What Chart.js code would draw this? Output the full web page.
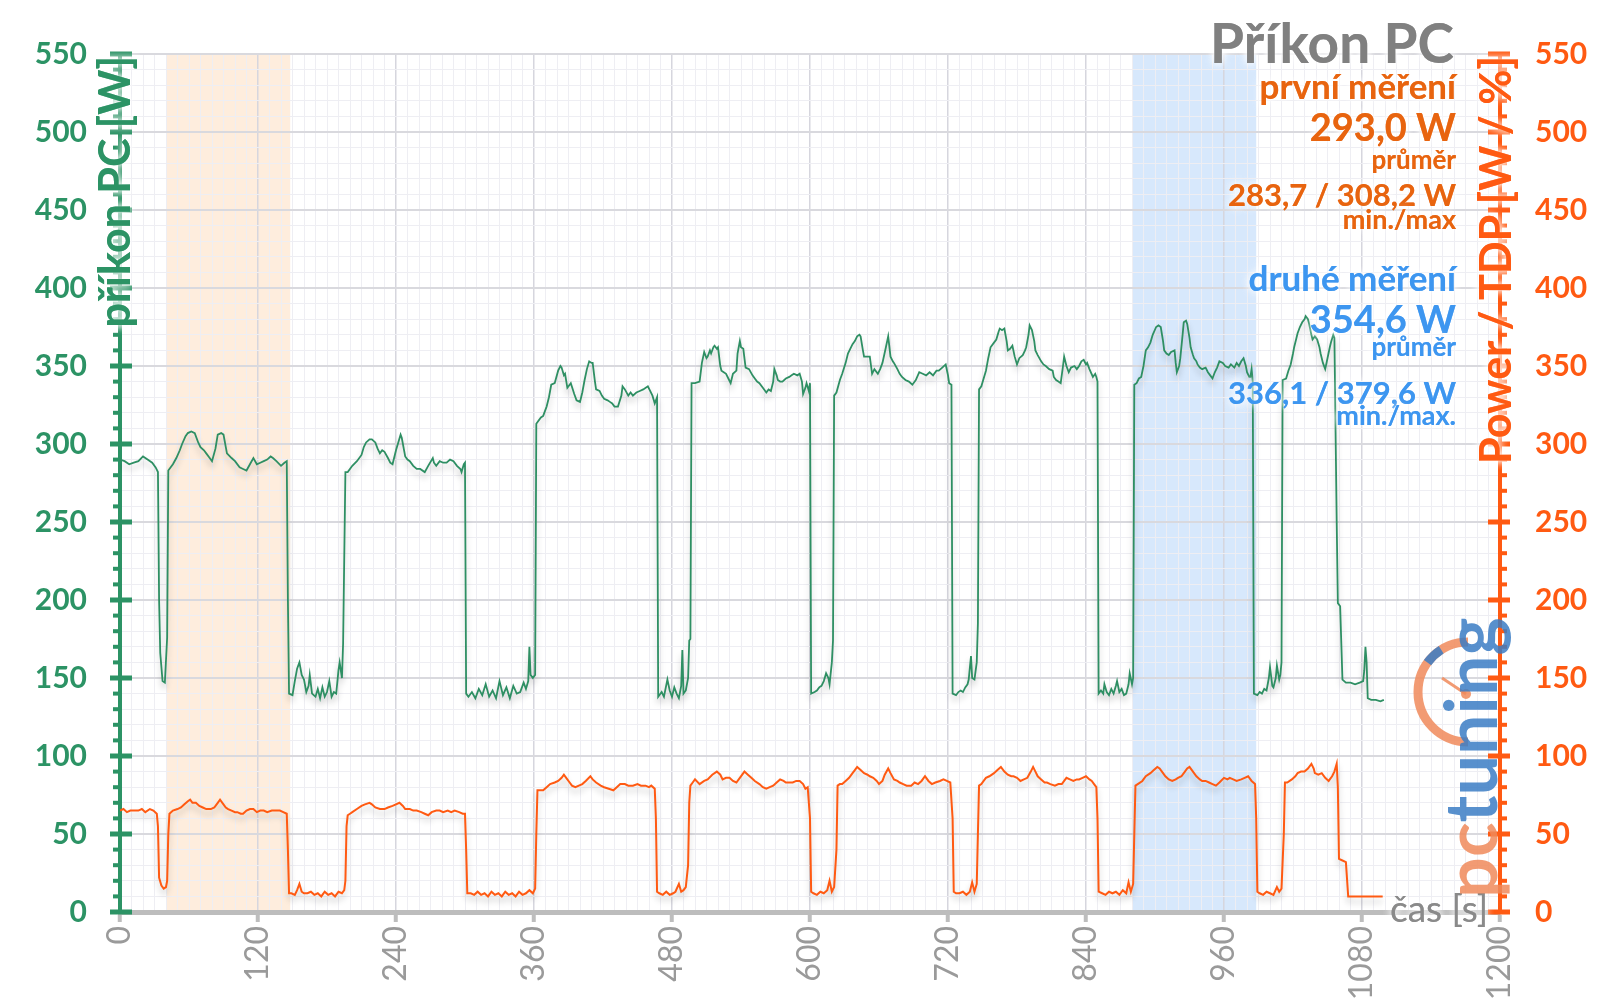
<!DOCTYPE html>
<html>
<head>
<meta charset="utf-8">
<script src="https://cdn.jsdelivr.net/npm/chart.js@4"></script>
<style>
  html, body { margin: 0; padding: 0; background: #fff; }
  #wrap { width: 1600px; height: 1008px; }
</style>
</head>
<body>
<div id="wrap"><canvas id="myChart" width="1600" height="1008"></canvas></div>
<script>
// příkon PC [W] - time [s], watts
const pcPower = [
[0,290],[4,289],[8,287],[12,288],[16,289],[20,292],[24,290],[28,288],[31,285],[33,282],[34,200],[35,166],[37,148],[39,147],[41,176],[42,283],
[46,287],[49,291],[52,296],[54,300],[57,305],[59,307],[62,308],[65,307],[68,301],[70,298],[73,296],[75,294],[78,291],[80,289],[83,297],[85,306],[88,307],[90,306],[92,298],[93,294],[97,291],[100,289],[104,285],[107,284],[110,283],[113,287],[116,291],[119,287],[122,288],[125,289],[128,290],[131,292],[133,291],[136,289],[140,286],[143,288],[145,289],[146,200],
[147,140],[150,139],[152,148],[154,156],[156,160],[158,152],[160,149],[162,141],[164,145],[165,152],[167,140],[170,138],[172,143],[174,137],[176,144],[178,138],[180,141],[182,148],[184,138],[186,141],[188,140],[190,155],[191,160],[193,150],[194,172],[196,282],
[198,282],[202,286],[206,289],[210,293],[212,298],[214,301],[217,303],[219,303],[222,301],[224,297],[226,294],[228,296],[230,295],[233,291],[235,288],[237,287],[240,296],[242,301],[244,306],[245,304],[248,292],[250,290],[252,289],[255,286],[258,284],[261,284],[265,282],[268,286],[272,291],[273,288],[275,286],[278,289],[281,288],[284,288],[287,290],[290,289],[293,286],[296,284],[297,282],[299,287],[300,288],
[301,140],[303,138],[306,141],[309,137],[312,143],[315,139],[318,146],[321,138],[324,142],[327,137],[330,148],[333,139],[336,144],[339,137],[342,145],[345,140],[348,141],[351,147],[353,143],[355,148],[356,170],[357,152],[359,150],[361,152],
[362,313],[366,317],[368,318],[370,322],[371,324],[373,330],[375,338],[378,339],[381,347],[383,350],[384,349],[386,344],[387,345],[389,336],[391,338],[392,339],[395,332],[397,328],[400,327],[402,333],[404,341],[406,348],[408,353],[410,352],[411,352],[413,340],[414,335],[417,334],[419,331],[421,329],[424,328],[426,327],[428,326],[430,324],[433,324],[436,331],[437,337],[439,335],[442,331],[444,333],[446,331],[449,333],[452,334],[455,335],[459,337],[461,334],[463,331],[465,326],[467,330],
[468,138],[471,141],[473,138],[476,149],[478,142],[480,138],[482,144],[484,140],[486,137],[488,145],[489,168],[490,140],[492,142],[494,150],[495,174],[496,175],
[497,339],[500,339],[504,340],[506,352],[508,359],[510,355],[511,356],[513,360],[514,358],[516,362],[517,363],[519,361],[520,362],[522,350],[523,347],[525,346],[527,345],[529,342],[531,339],[533,345],[536,347],[537,358],[539,366],[540,362],[542,361],[544,349],[547,348],[550,344],[552,342],[554,340],[556,339],[559,336],[562,333],[564,335],[566,334],[568,340],[569,348],[571,344],[572,341],[574,340],[576,340],[579,342],[582,343],[584,344],[586,345],[589,344],[591,345],[593,340],[594,332],[596,336],[597,339],[599,334],[600,339],
[601,140],[604,141],[606,142],[608,144],[610,145],[612,148],[614,153],[616,150],[617,146],[619,160],[620,174],
[621,331],[623,333],[626,341],[628,345],[631,352],[633,358],[635,361],[637,364],[639,366],[641,369],[643,370],[644,369],[646,360],[647,356],[650,356],[652,356],[654,345],[656,348],[659,345],[661,348],[663,352],[666,362],[668,369],[670,356],[672,353],[673,352],[676,348],[678,345],[680,343],[683,341],[686,340],[689,338],[692,341],[695,346],[698,345],[701,344],[704,346],[707,344],[710,347],[712,347],[715,349],[718,351],[720,344],[721,339],[723,338],
[724,140],[727,139],[729,141],[731,142],[733,141],[735,144],[737,146],[738,149],[740,164],[741,150],[743,149],[745,160],[746,185],
[747,335],[749,337],[751,342],[753,347],[755,355],[757,362],[760,365],[762,367],[764,372],[765,374],[767,373],[769,374],[771,366],[772,360],[774,361],[776,363],[778,356],[780,351],[782,355],[785,357],[787,360],[788,362],[790,370],[791,376],[793,373],[795,366],[796,360],[798,357],[801,353],[803,351],[805,350],[808,348],[811,347],[812,343],[814,341],[816,340],[818,339],[820,350],[821,356],[823,350],[825,346],[827,349],[830,350],[832,348],[834,350],[836,353],[838,354],[840,351],[841,352],[843,348],[846,343],[848,345],[849,343],[850,340],
[851,140],[853,142],[855,140],[856,146],[858,141],[860,139],[862,143],[864,140],[866,145],[867,148],[869,141],[871,143],[873,139],[875,140],[877,146],[878,153],[880,146],[881,150],
[882,338],[884,339],[886,342],[888,343],[890,350],[892,360],[894,362],[896,365],[898,370],[901,375],[903,376],[905,375],[907,366],[908,360],[910,358],[912,357],[914,359],[917,360],[918,352],[919,346],[921,350],[922,355],[924,370],[925,378],[927,379],[928,377],[930,368],[931,362],[933,357],[934,355],[936,353],[937,351],[939,349],[941,348],[944,349],[946,346],[948,344],[950,342],[952,346],[954,349],[956,353],[959,352],[961,350],[964,349],[966,351],[969,349],[971,352],[973,350],[975,353],[977,355],[979,350],[980,346],[982,343],[983,343],[984,348],[985,340],
[986,140],[989,139],[991,141],[993,140],[995,143],[997,142],[999,150],[1000,157],[1002,145],[1003,144],[1005,150],[1006,158],[1008,149],[1009,152],[1010,160],
[1011,341],[1014,342],[1016,347],[1018,351],[1020,358],[1021,362],[1023,368],[1024,371],[1026,375],[1028,378],[1030,380],[1031,382],[1033,380],[1034,377],[1036,370],[1037,367],[1039,369],[1041,367],[1043,362],[1044,358],[1046,352],[1048,348],[1050,355],[1052,362],[1053,365],[1055,370],[1056,368],
[1058,250],[1059,198],[1061,196],[1063,149],[1066,147],[1070,147],[1074,146],[1078,147],[1081,148],[1082,155],[1083,170],[1084,160],[1085,137],[1088,136],[1092,136],[1096,135],[1099,136]
];

// Power / TDP [W / %] - time [s], value
const tdpPower = [
[0,65],[3,66],[6,64],[9,65],[12,65],[16,65],[19,66],[22,64],[26,66],[29,65],[32,63],[33,55],[34,22],[36,17],[38,15],[40,16],[41,20],[42,50],[43,63],[46,65],[50,66],[53,67],[56,69],[59,71],[61,72],[63,70],[66,70],[69,68],[72,67],[75,66],[79,66],[82,67],[85,70],[87,72],[89,70],[92,67],[94,66],[97,65],[100,64],[102,64],[105,63],[107,63],[110,65],[113,66],[116,66],[119,64],[122,65],[125,65],[128,64],[132,65],[135,65],[139,65],[142,64],[145,63],[146,40],
[147,12],[149,12],[152,11],[154,14],[156,18],[158,13],[160,12],[163,12],[166,13],[169,11],[172,12],[175,10],[178,13],[181,11],[184,12],[187,10],[190,13],[193,12],[195,14],[196,20],[197,55],
[198,62],[200,63],[202,64],[206,66],[210,68],[213,69],[217,70],[219,69],[222,67],[226,66],[230,66],[233,67],[237,68],[240,69],[243,70],[246,68],[248,66],[252,66],[255,65],[258,65],[262,64],[265,63],[268,62],[271,64],[275,65],[278,65],[281,64],[285,65],[288,64],[291,65],[295,64],[298,63],[300,63],[301,40],
[302,12],[305,12],[308,11],[311,13],[314,11],[317,12],[320,10],[323,13],[326,11],[329,12],[332,10],[335,13],[338,11],[341,12],[344,10],[347,13],[350,11],[353,12],[356,14],[359,12],[361,15],[362,50],
[363,78],[365,78],[368,78],[371,80],[374,82],[378,83],[381,84],[384,86],[386,88],[388,86],[391,83],[393,81],[396,80],[399,81],[402,82],[405,84],[409,87],[411,85],[414,83],[418,81],[421,80],[425,79],[429,78],[432,80],[435,82],[439,82],[442,81],[446,81],[450,82],[453,81],[457,81],[460,80],[462,81],[465,79],[466,60],
[467,13],[469,12],[472,11],[475,13],[478,11],[481,12],[483,13],[486,18],[488,13],[490,14],[492,16],[494,30],[495,70],
[496,81],[498,83],[500,85],[504,82],[508,84],[511,85],[515,88],[519,90],[522,88],[524,85],[527,86],[530,86],[533,84],[536,83],[539,86],[543,90],[546,88],[549,86],[552,84],[556,82],[559,80],[562,79],[565,80],[568,81],[571,83],[574,85],[577,84],[579,83],[582,83],[585,83],[588,84],[591,84],[594,82],[596,79],[598,80],[600,60],
[601,13],[603,12],[606,11],[609,13],[612,12],[615,14],[617,20],[619,13],[621,16],[623,40],
[624,81],[626,82],[628,82],[631,84],[634,86],[637,89],[639,91],[641,93],[644,91],[647,89],[650,88],[652,87],[655,86],[658,84],[660,82],[663,84],[665,88],[668,92],[670,89],[673,85],[676,84],[678,83],[681,82],[684,81],[688,81],[691,83],[694,82],[697,84],[700,87],[703,84],[706,82],[709,83],[713,84],[716,85],[719,84],[722,83],[724,60],
[725,13],[727,12],[730,12],[733,13],[736,11],[739,13],[741,19],[743,13],[745,18],[746,50],
[747,81],[749,82],[751,84],[753,86],[756,87],[760,89],[763,91],[766,93],[769,90],[772,88],[775,87],[777,87],[780,86],[783,84],[786,85],[789,86],[792,90],[794,93],[796,90],[798,87],[801,85],[804,83],[806,83],[809,82],[813,81],[816,82],[819,82],[821,84],[823,86],[826,85],[829,84],[832,85],[834,85],[837,86],[840,87],[843,85],[845,84],[847,82],[849,80],[850,60],
[851,13],[854,12],[857,11],[860,13],[863,12],[866,13],[869,11],[872,14],[875,12],[877,19],[879,13],[881,18],[882,50],
[883,81],[885,82],[889,84],[892,87],[896,89],[899,91],[902,93],[904,92],[907,89],[909,87],[912,85],[915,84],[918,85],[920,86],[923,87],[926,90],[928,92],[930,93],[933,90],[936,87],[939,85],[941,84],[944,84],[947,83],[950,82],[953,81],[956,83],[960,86],[963,85],[965,86],[968,85],[971,84],[975,85],[978,86],[981,87],[984,84],[987,82],[988,60],
[989,13],[991,12],[994,11],[997,13],[1000,12],[1003,11],[1006,16],[1008,13],[1010,15],[1012,50],
[1013,83],[1015,83],[1019,85],[1022,87],[1024,89],[1027,90],[1030,90],[1033,92],[1036,95],[1038,92],[1039,89],[1042,88],[1045,89],[1048,86],[1051,84],[1054,87],[1056,90],[1058,95],[1059,80],[1060,34],[1063,33],[1066,32],[1068,10],[1075,10],[1085,10],[1090,10],[1098,10]
];

// highlighted measuring windows [from, to] in seconds
const firstWindow = [40, 148];
const secondWindow = [880, 988];

const firstRun = ['první měření', '293,0 W', 'průměr', '283,7 / 308,2 W', 'min./max'];
const secondRun = ['druhé měření', '354,6 W', 'průměr', '336,1 / 379,6 W', 'min./max.'];

const GREEN = '#2c9365';
const ORANGE = '#ff5a12';
const ORANGE_TXT = '#e8640f';
const BLUE_TXT = '#3d96f0';
const FONT = 'Lato';

Chart.defaults.font.family = FONT;

function glow(ctx, text, x, y) {
    ctx.save();
    ctx.shadowColor = 'rgba(255,255,255,1)';
    ctx.shadowBlur = 8;
    ctx.fillText(text, x, y);
    ctx.fillText(text, x, y);
    ctx.restore();
}

const decorations = {
    id: 'decorations',
    beforeDraw(chart) {
        // the two measuring windows
        const ctx = chart.ctx, x = chart.scales.x, a = chart.chartArea;
        const bands = [[firstWindow, 'rgba(252,215,180,0.45)'], [secondWindow, 'rgba(175,210,250,0.5)']];
        bands.forEach(function(b){
            const x1 = x.getPixelForValue(b[0][0]), x2 = x.getPixelForValue(b[0][1]);
            ctx.fillStyle = b[1];
            ctx.fillRect(x1, a.top, x2 - x1, a.bottom - a.top);
        });
    },
    beforeDatasetsDraw(chart) {
        // tick marks on both y axes
        const ctx = chart.ctx, y = chart.scales.y, a = chart.chartArea;
        for (let v = 0; v <= 550; v += 10) {
            const py = y.getPixelForValue(v);
            const major = v % 50 === 0;
            ctx.fillStyle = GREEN;
            if (major) ctx.fillRect(a.left - 10, py - 2.5, 22, 5);
            else ctx.fillRect(a.left - 7, py - 2, 6, 4);
            ctx.fillStyle = ORANGE;
            if (major) ctx.fillRect(a.right - 12, py - 2.5, 22, 5);
            else ctx.fillRect(a.right + 1, py - 2, 6, 4);
        }
        ctx.save();
        ctx.shadowColor = 'rgba(0,0,0,0.22)';
        ctx.shadowBlur = 6;
        ctx.shadowOffsetY = 5;
    },
    afterDatasetsDraw(chart) {
        chart.ctx.restore();
    },
    afterDraw(chart) {
        const ctx = chart.ctx, a = chart.chartArea;
        ctx.save();
        ctx.textAlign = 'right';
        ctx.textBaseline = 'alphabetic';
        const rx = 1456;

        ctx.fillStyle = '#808080';
        ctx.font = 'bold 55px ' + FONT;
        glow(ctx, 'Příkon PC', 1454, 63);

        const sizes = [35, 38, 26, 31, 27];
        const base1 = [99, 141, 169, 206, 229];
        const base2 = [291, 333, 356, 404, 425];
        for (let i = 0; i < 5; i++) {
            ctx.font = 'bold ' + sizes[i] + 'px ' + FONT;
            ctx.fillStyle = ORANGE_TXT;
            glow(ctx, firstRun[i], rx, base1[i]);
            ctx.fillStyle = BLUE_TXT;
            glow(ctx, secondRun[i], rx, base2[i]);
        }

        // axis titles
        ctx.textBaseline = 'middle';
        ctx.font = 'bold 43px ' + FONT;
        ctx.save();
        ctx.translate(116, a.top + 2);
        ctx.rotate(-Math.PI / 2);
        ctx.fillStyle = GREEN;
        glow(ctx, 'příkon PC [W]', 0, 0);
        ctx.restore();

        ctx.save();
        ctx.translate(1497, a.top + 2);
        ctx.rotate(-Math.PI / 2);
        ctx.fillStyle = ORANGE;
        glow(ctx, 'Power / TDP [W / %]', 0, 0);
        ctx.restore();

        ctx.textAlign = 'left';
        ctx.font = '37px ' + FONT;
        ctx.fillStyle = '#8a8a8a';
        glow(ctx, 'čas [s]', 1390, 910);

        // pctuning logo
        ctx.globalAlpha = 0.85;
        ctx.lineWidth = 9;
        ctx.strokeStyle = '#f08a5a';
        ctx.beginPath();
        ctx.arc(1468, 692, 50, Math.PI / 2, Math.PI * 1.5);
        ctx.stroke();
        ctx.strokeStyle = '#3b7cc4';
        ctx.beginPath();
        ctx.arc(1468, 692, 50, Math.PI * 1.2, Math.PI * 1.32);
        ctx.stroke();
        ctx.strokeStyle = '#f08a5a';
        ctx.lineWidth = 3;
        ctx.beginPath();
        ctx.moveTo(1442, 678);
        ctx.lineTo(1466, 694);
        ctx.stroke();
        ctx.fillStyle = '#f08a5a';
        ctx.beginPath();
        ctx.arc(1466, 694, 5, 0, Math.PI * 2);
        ctx.fill();

        ctx.translate(1497, 898);
        ctx.rotate(-Math.PI / 2);
        ctx.textBaseline = 'alphabetic';
        ctx.font = 'bold 72px ' + FONT;
        ctx.fillStyle = '#f08a5a';
        ctx.fillText('pc', 0, 0);
        const w = ctx.measureText('pc').width;
        ctx.fillStyle = '#3b7cc4';
        ctx.fillText('tuning', w, 0);
        ctx.restore();
    }
};

const majorX = v => v % 120 === 0;
const majorY = v => v % 50 === 0;

const ctx = document.getElementById('myChart');
const myChart = new Chart(ctx, {
    type: 'line',
    data: {
        datasets: [{
            label: 'příkon PC',
            data: pcPower.map(p => ({x: p[0], y: p[1]})),
            borderColor: '#2e8f63',
            borderWidth: 1.8,
            pointRadius: 0,
            yAxisID: 'y'
        }, {
            label: 'Power / TDP',
            data: tdpPower.map(p => ({x: p[0], y: p[1]})),
            borderColor: ORANGE,
            borderWidth: 2,
            pointRadius: 0,
            yAxisID: 'y2'
        }]
    },
    options: {
        responsive: false,
        animation: false,
        layout: { padding: { top: 54, left: 0, right: 0, bottom: 0 } },
        plugins: { legend: { display: false }, tooltip: { enabled: false } },
        scales: {
            x: {
                type: 'linear', min: 0, max: 1200,
                afterFit: s => { s.height = 96; },
                ticks: {
                    stepSize: 10, autoSkip: false, minRotation: 90, maxRotation: 90, padding: 4,
                    color: '#9a9a9a', font: { size: 32 },
                    callback: v => majorX(v) ? v : ''
                },
                grid: {
                    color: c => majorX(c.tick.value) ? '#d6d6de' : '#eeeef3',
                    lineWidth: c => majorX(c.tick.value) ? 1.5 : 1,
                    tickLength: 10,
                    tickColor: c => majorX(c.tick.value) ? '#bdbdbd' : 'rgba(0,0,0,0)',
                    tickWidth: 4
                },
                border: { color: '#bdbdbd', width: 5 }
            },
            y: {
                position: 'left', min: 0, max: 550,
                afterFit: s => { s.width = 120; },
                ticks: {
                    stepSize: 10, autoSkip: false, padding: 33,
                    color: GREEN, font: { size: 30, weight: 'bold' },
                    callback: v => majorY(v) ? v : ''
                },
                grid: {
                    drawTicks: false,
                    color: c => majorY(c.tick.value) ? '#d9d9de' : '#eeeef3',
                    lineWidth: c => majorY(c.tick.value) ? 2 : 1
                },
                border: { color: GREEN, width: 4 }
            },
            y2: {
                position: 'right', min: 0, max: 550,
                afterFit: s => { s.width = 100; },
                ticks: {
                    stepSize: 10, autoSkip: false, padding: 35,
                    color: ORANGE, font: { size: 30, weight: 'bold' },
                    callback: v => majorY(v) ? v : ''
                },
                grid: { drawTicks: false, drawOnChartArea: false },
                border: { color: ORANGE, width: 4 }
            }
        }
    },
    plugins: [decorations]
});
</script>
</body>
</html>
